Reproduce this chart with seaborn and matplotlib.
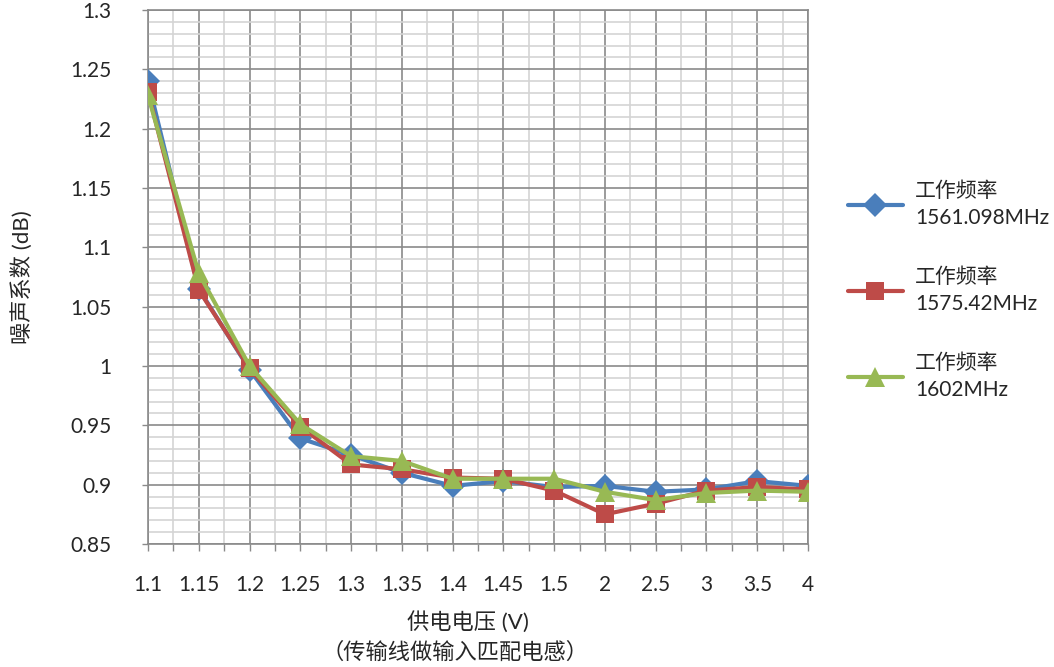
import numpy as np
import matplotlib
matplotlib.use('Agg')
import matplotlib.pyplot as plt
import seaborn as sns
from matplotlib.ticker import FixedLocator, FuncFormatter

# ============================== Données ==============================
voltages = ['1.1', '1.15', '1.2', '1.25', '1.3', '1.35', '1.4', '1.45', '1.5', '2', '2.5', '3', '3.5', '4']
nf_1561 = [1.240, 1.065, 0.997, 0.939, 0.925, 0.910, 0.899, 0.903, 0.898, 0.899, 0.894, 0.896, 0.903, 0.899]
nf_1575 = [1.231, 1.064, 0.998, 0.949, 0.917, 0.913, 0.906, 0.905, 0.895, 0.875, 0.884, 0.895, 0.898, 0.896]
nf_1602 = [1.228, 1.078, 1.000, 0.951, 0.924, 0.920, 0.905, 0.905, 0.905, 0.894, 0.887, 0.893, 0.895, 0.894]
series_labels = ['工作频率\n1561.098MHz', '工作频率\n1575.42MHz', '工作频率\n1602MHz']
y_ticks = [0.85, 0.9, 0.95, 1.0, 1.05, 1.1, 1.15, 1.2, 1.25, 1.3]

colors = ['#4A7EBB', '#BE4B48', '#98B954']
markers = ['D', 's', '^']
msizes = [12, 13, 15]

sns.set_style('white')
plt.rcParams['font.family'] = ['Lato', 'Noto Sans CJK SC', 'DejaVu Sans']

fig = plt.figure(figsize=(10.54, 6.67), dpi=100)
ax = fig.add_axes([148 / 1054, 1 - 544 / 667, 660 / 1054, 534 / 667])

for vals, lab, c, m, ms in zip([nf_1561, nf_1575, nf_1602], series_labels, colors, markers, msizes):
    sns.lineplot(x=voltages, y=vals, ax=ax, color=c, marker=m, markersize=ms,
                 markeredgewidth=0, linewidth=3, label=lab, sort=False, zorder=3)

# ---------------------------- Axes et grille ----------------------------
ax.set_xlim(0, len(voltages) - 1)
ax.set_ylim(0.85, 1.3)
ax.set_xticks(range(len(voltages)))
ax.set_xticklabels(voltages)
ax.xaxis.set_minor_locator(FixedLocator(np.arange(0.5, len(voltages) - 1, 1.0)))
ax.set_yticks(y_ticks)
ax.yaxis.set_major_formatter(FuncFormatter(lambda v, p: f'{v:g}'))
ax.yaxis.set_minor_locator(FixedLocator(np.arange(0.86, 1.30, 0.01)))

ax.grid(which='major', color='#8a8a8a', linewidth=1.2, zorder=1)
ax.grid(which='minor', color='#d4d4d4', linewidth=1.2, zorder=0)
ax.set_axisbelow(True)

ax.tick_params(axis='x', which='both', direction='out', length=5, width=1, color='#8a8a8a',
               pad=17, labelsize=15, bottom=True)
ax.tick_params(axis='y', which='major', direction='out', length=4, width=1, color='#8a8a8a',
               pad=22, labelsize=15, left=True)
ax.tick_params(axis='y', which='minor', length=0)
for s in ax.spines.values():
    s.set_color('#8a8a8a')
    s.set_linewidth(1.2)

ax.set_xlabel('')
ax.set_ylabel('噪声系数 (dB)', fontsize=16)
ax.yaxis.set_label_coords(-0.175, 0.5)
fig.text(468 / 1054, 1 - 622 / 667, '供电电压 (V)', fontsize=16, ha='center', va='center')
fig.text(455 / 1054, 1 - 652 / 667, '（传输线做输入匹配电感）', fontsize=16, ha='center', va='center',
         family=['Noto Sans CJK SC', 'DejaVu Sans'])

# ------------------------------- Légende -------------------------------
leg = ax.legend(loc='upper left', bbox_to_anchor=(840 / 1054, 1 - 173 / 667), bbox_transform=fig.transFigure,
                frameon=False, fontsize=15, handlelength=2.6, handletextpad=0.6, labelspacing=1.9,
                numpoints=1, borderaxespad=0)
for t in leg.get_texts():
    t.set_linespacing(1.4)

fig.savefig('out.png', dpi=100)
